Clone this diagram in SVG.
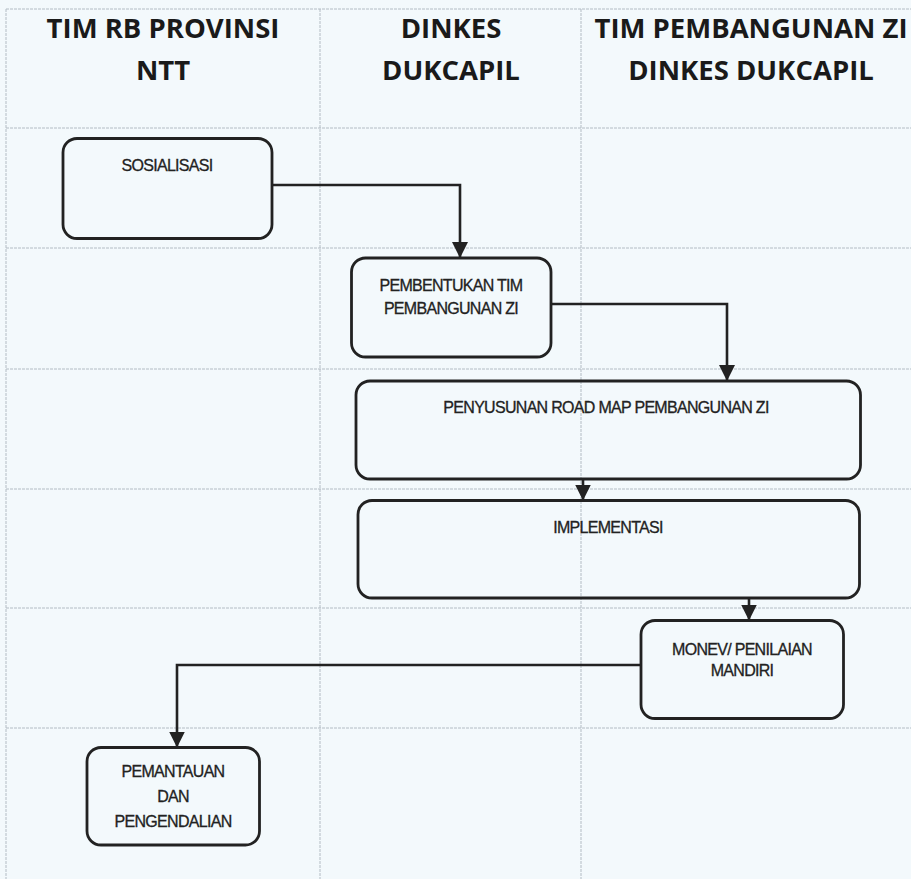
<svg xmlns="http://www.w3.org/2000/svg" width="911" height="879" viewBox="0 0 911 879">
<style>
.grid{stroke:#b3bcc4;stroke-width:1;stroke-dasharray:3 1;fill:none}
.hdr{font-family:"Open Sans","Liberation Sans",sans-serif;font-weight:bold;font-size:27.5px;fill:#1a1a1a;text-anchor:middle}
.box{fill:none;stroke:#222;stroke-width:2.8}
.lbl{font-family:"Liberation Sans",Arial,sans-serif;font-size:16px;letter-spacing:-0.7px;fill:#222;stroke:#222;stroke-width:0.3;text-anchor:middle}
.conn{fill:none;stroke:#222;stroke-width:2.6}
</style>
<defs>
<marker id="arr" markerUnits="userSpaceOnUse" markerWidth="18" markerHeight="18" refX="16" refY="8" orient="auto">
<path d="M0,0 L16,8 L0,16 Z" fill="#222"/>
</marker>
</defs>
<rect width="911" height="879" fill="#f3f9fc"/>
<g id="grid">
<path class="grid" d="M6,9 V879 M320,9 V879 M581,9 V879"/>
<path class="grid" d="M6,9 H911 M6,128 H911 M6,248 H911 M6,369 H911 M6,489 H911 M6,608 H911 M6,728 H911"/>
</g>
<g id="headers">
<text class="hdr" x="163" y="38">TIM RB PROVINSI</text>
<text class="hdr" x="163" y="80">NTT</text>
<text class="hdr" x="451" y="38">DINKES</text>
<text class="hdr" x="451" y="80">DUKCAPIL</text>
<text class="hdr" x="751" y="38">TIM PEMBANGUNAN ZI</text>
<text class="hdr" x="751" y="80">DINKES DUKCAPIL</text>
</g>
<g id="connectors">
<path class="conn" d="M272,185 H460 V258" marker-end="url(#arr)"/>
<path class="conn" d="M551,304 H727 V381" marker-end="url(#arr)"/>
<path class="conn" d="M583,479 V500.5" marker-end="url(#arr)"/>
<path class="conn" d="M749,598 V620.5" marker-end="url(#arr)"/>
<path class="conn" d="M641,665 H177 V747.5" marker-end="url(#arr)"/>
</g>
<g id="sosialisasi">
<rect class="box" x="63" y="138.5" width="209" height="100" rx="14"/>
<text class="lbl" x="167" y="171">SOSIALISASI</text>
</g>
<g id="pembentukan">
<rect class="box" x="351.5" y="258" width="199.5" height="99" rx="14"/>
<text class="lbl" x="451" y="291">PEMBENTUKAN TIM</text>
<text class="lbl" x="451" y="314">PEMBANGUNAN ZI</text>
</g>
<g id="penyusunan">
<rect class="box" x="356" y="381" width="504.5" height="98" rx="14"/>
<text class="lbl" x="606" y="413">PENYUSUNAN ROAD MAP PEMBANGUNAN ZI</text>
</g>
<g id="implementasi">
<rect class="box" x="358" y="500.5" width="501.5" height="97.5" rx="14"/>
<text class="lbl" x="608" y="533">IMPLEMENTASI</text>
</g>
<g id="monev">
<rect class="box" x="641" y="620.5" width="202.5" height="98" rx="14"/>
<text class="lbl" x="742" y="655">MONEV/ PENILAIAN</text>
<text class="lbl" x="742" y="676">MANDIRI</text>
</g>
<g id="pemantauan">
<rect class="box" x="87" y="747.5" width="172.5" height="97.5" rx="14"/>
<text class="lbl" x="173" y="777">PEMANTAUAN</text>
<text class="lbl" x="173" y="802">DAN</text>
<text class="lbl" x="173" y="827">PENGENDALIAN</text>
</g>
</svg>
